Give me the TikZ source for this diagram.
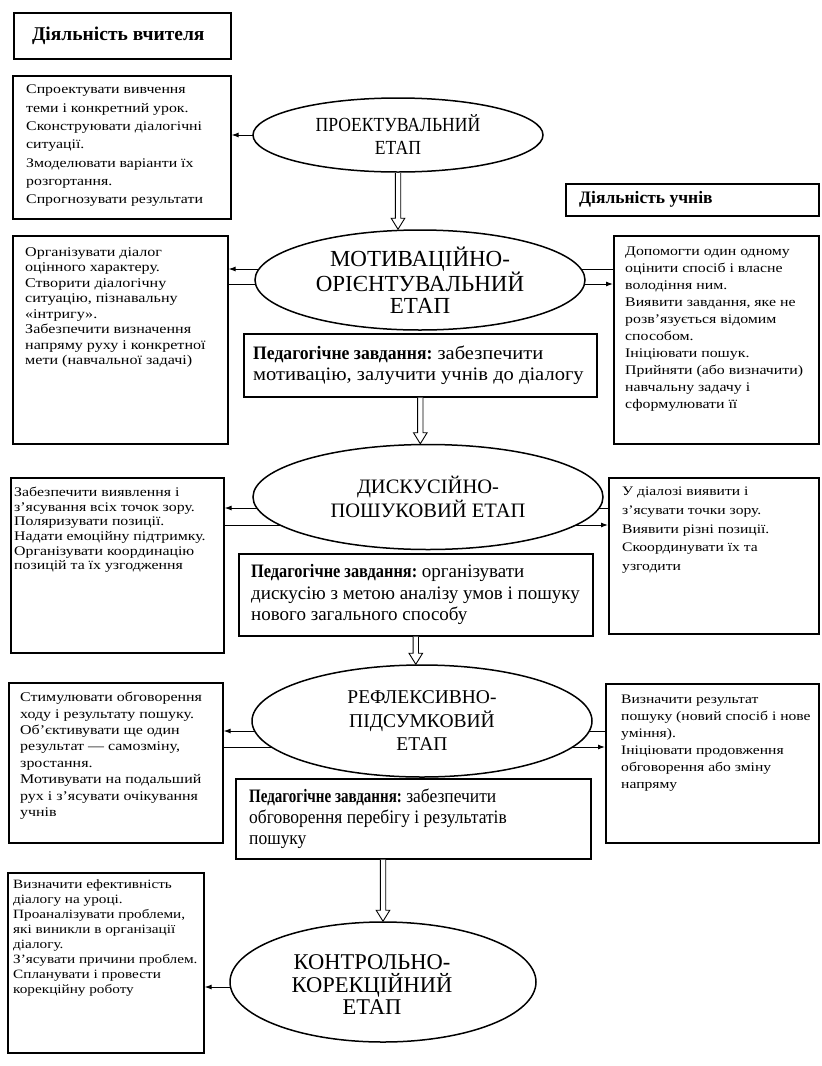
\documentclass[tikz,border=0pt]{standalone}
\usepackage{graphicx}
\usepackage{fontspec}
\setmainfont{Liberation Serif}
\newfontfamily\bx[FakeStretch=1.2]{Liberation Serif}
\newfontfamily\el[FakeStretch=0.88]{Liberation Serif}
\newfontfamily\pfa[FakeStretch=1.08]{Liberation Serif}
\newfontfamily\pfd[FakeStretch=0.92]{Liberation Serif}
\newcommand\pedlabel{\scalebox{0.86}[1]{\bfseries Педагогічне завдання:}}
\usetikzlibrary{arrows.meta,shapes.geometric,backgrounds,calc}
\newcommand\dnarr[2]{%
  \draw[line width=0.9pt, fill=white]
    ($(#1)+(-2.7,0)$) -- ($(#2)+(-2.7,-11)$) -- ($(#2)+(-6.8,-11)$) -- (#2)
    -- ($(#2)+(6.8,-11)$) -- ($(#2)+(2.7,-11)$) -- ($(#1)+(2.7,0)$);}
\begin{document}
\begin{tikzpicture}[x=1pt,y=-1pt,
  frame/.style={draw, line width=1.6pt, inner sep=0pt, fill=white, anchor=north west},
  tx/.style={anchor=north west, inner sep=0pt, align=left},
  stage/.style={ellipse, draw, line width=1.5pt, fill=white, inner sep=0pt, align=center,
                font=\el\fontsize{20}{23}\selectfont},
  arr/.style={line width=1pt, -{Latex[length=7pt,width=5pt]}},
  ln/.style={line width=1pt},
  ped/.style={anchor=west, inner sep=0pt, align=left}
]
\useasboundingbox (0,0) rectangle (822,1066);

% ---------- headers
\node[frame, minimum width=217pt, minimum height=46pt] (H1) at (13,12) {};
\node[inner sep=0pt, font=\bfseries\fontsize{19.5}{22}\selectfont] (H1t) at ([xshift=-4pt]H1.center) {Діяльність вчителя};
\node[frame, minimum width=253pt, minimum height=32pt] (H2) at (565,183) {};
\node[anchor=west, inner sep=0pt, font=\bfseries\fontsize{17.5}{20}\selectfont] (H2t) at ([xshift=14pt]H2.west) {Діяльність учнів};

% ---------- stages
\node[stage, minimum width=290pt, minimum height=74pt] (E1) at (398,135) {ПРОЕКТУВАЛЬНИЙ\\ЕТАП};
\node[stage, minimum width=330pt, minimum height=100pt, font=\fontsize{23}{21.5}\selectfont] (E2) at (420,280) {МОТИВАЦІЙНО-\\ОРІЄНТУВАЛЬНИЙ\\ЕТАП};
\node[stage, minimum width=350pt, minimum height=105pt, font=\fontsize{20.5}{24}\selectfont] (E3) at (428,497) {ДИСКУСІЙНО-\\ПОШУКОВИЙ ЕТАП};
\node[stage, minimum width=340pt, minimum height=112pt, font=\fontsize{19.5}{23.5}\selectfont] (E4) at (422,721) {РЕФЛЕКСИВНО-\\ПІДСУМКОВИЙ\\ЕТАП};
\node[stage, minimum width=306pt, minimum height=120pt] (E5) at (383,982) {};
\node[inner sep=0pt, align=center, font=\fontsize{22.5}{22.5}\selectfont] (E5t) at ([xshift=-11pt,yshift=-3pt]E5.center) {КОНТРОЛЬНО-\\КОРЕКЦІЙНИЙ\\ЕТАП};

% ---------- teacher boxes (left)
\node[frame, minimum width=218pt, minimum height=143pt] (B1) at (12,75) {};
\node[tx, font=\bx\fontsize{13.2}{18.3}\selectfont] (B1t) at ([xshift=14pt,yshift=-10pt]B1.north west)
 {Спроектувати вивчення\\теми і конкретний урок.\\Сконструювати діалогічні\\ситуації.\\Змоделювати варіанти їх\\розгортання.\\Спрогнозувати результати};

\node[frame, minimum width=215pt, minimum height=208pt] (B2) at (12,235) {};
\node[tx, font=\bx\fontsize{13.4}{15.5}\selectfont] (B2t) at ([xshift=13pt,yshift=-12pt]B2.north west)
 {Організувати діалог\\оцінного характеру.\\Створити діалогічну\\ситуацію, пізнавальну\\«інтригу».\\Забезпечити визначення\\напряму руху і конкретної\\мети (навчальної задачі)};

\node[frame, minimum width=213pt, minimum height=175pt] (B3) at (10,477) {};
\node[tx, font=\bx\fontsize{13.2}{14.6}\selectfont] (B3t) at ([xshift=4pt,yshift=-10pt]B3.north west)
 {Забезпечити виявлення і\\з’ясування всіх точок зору.\\Поляризувати позиції.\\Надати емоційну підтримку.\\Організувати координацію\\позицій та їх узгодження};

\node[frame, minimum width=214pt, minimum height=160pt] (B4) at (8,682) {};
\node[tx, font=\bx\fontsize{13.3}{16.4}\selectfont] (B4t) at ([xshift=12pt,yshift=-10pt]B4.north west)
 {Стимулювати обговорення\\ходу і результату пошуку.\\Об’єктивувати ще один\\результат — самозміну,\\зростання.\\Мотивувати на подальший\\рух і з’ясувати очікування\\учнів};

\node[frame, minimum width=196pt, minimum height=180pt] (B5) at (7,872) {};
\node[tx, font=\bx\fontsize{12.7}{15}\selectfont] (B5t) at ([xshift=6pt,yshift=-7pt]B5.north west)
 {Визначити ефективність\\діалогу на уроці.\\Проаналізувати проблеми,\\які виникли в організації\\діалогу.\\З’ясувати причини проблем.\\Спланувати і провести\\корекційну роботу};

% ---------- pupil boxes (right)
\node[frame, minimum width=205pt, minimum height=208pt] (R2) at (613,235) {};
\node[tx, font=\bx\fontsize{13.2}{17}\selectfont] (R2t) at ([xshift=12pt,yshift=-12pt]R2.north west)
 {Допомогти один одному\\оцінити спосіб і власне\\володіння ним.\\Виявити завдання, яке не\\розв’язується відомим\\способом.\\Ініціювати пошук.\\Прийняти (або визначити)\\навчальну задачу і\\сформулювати її};

\node[frame, minimum width=210pt, minimum height=156pt] (R3) at (608,477) {};
\node[tx, font=\bx\fontsize{13}{18.7}\selectfont] (R3t) at ([xshift=14pt,yshift=-10pt]R3.north west)
 {У діалозі виявити і\\з’ясувати точки зору.\\Виявити різні позиції.\\Скоординувати їх та\\узгодити};

\node[frame, minimum width=213pt, minimum height=159pt] (R4) at (605,683) {};
\node[tx, font=\bx\fontsize{13}{17}\selectfont] (R4t) at ([xshift=16pt,yshift=-12pt]R4.north west)
 {Визначити результат\\пошуку (новий спосіб і нове\\уміння).\\Ініціювати продовження\\обговорення або зміну\\напряму};

% ---------- pedagogical task boxes
\node[frame, minimum width=353pt, minimum height=63pt] (P2) at (243,333) {};
\node[ped, font=\pfa\fontsize{19}{21}\selectfont] (P2t) at ([xshift=10pt]P2.west)
 {\pedlabel{} забезпечити\\мотивацію, залучити учнів до діалогу};
\node[frame, minimum width=354pt, minimum height=82pt] (P3) at (238,553) {};
\node[ped, font=\fontsize{19}{21.5}\selectfont] (P3t) at ([xshift=13pt]P3.west)
 {\pedlabel{} організувати\\дискусію з метою аналізу умов і пошуку\\нового загального способу};
\node[frame, minimum width=355pt, minimum height=80pt] (P4) at (235,778) {};
\node[ped, font=\pfd\fontsize{19}{21}\selectfont] (P4t) at ([xshift=14pt]P4.west)
 {\pedlabel{} забезпечити\\обговорення перебігу і результатів\\пошуку};

% ---------- side connectors (behind the ellipses)
\path (E2.center) ++(0,-11) coordinate (e2a);
\path (E2.center) ++(0,4) coordinate (e2b);
\path (E3.center) ++(0,11) coordinate (e3a);
\path (E3.center) ++(0,28) coordinate (e3b);
\path (E4.center) ++(0,10) coordinate (e4a);
\path (E4.center) ++(0,26) coordinate (e4b);
\path (E5.center) ++(0,5) coordinate (e5a);

\begin{scope}[on background layer]
\fill[white] (0,0) rectangle (822,1066);
\draw[arr] (E1.center) -- (E1.center -| B1.east);
\draw[arr] (e2a) -- (e2a -| B2.east);
\draw[ln]  (e2b) -- (e2b -| B2.east);
\draw[ln]  (e2a) -- (e2a -| R2.west);
\draw[arr] (e2b) -- (e2b -| R2.west);
\draw[arr] (e3a) -- (e3a -| B3.east);
\draw[ln]  (e3b) -- (e3b -| B3.east);
\draw[ln]  (e3a) -- (e3a -| R3.west);
\draw[arr] (e3b) -- (e3b -| R3.west);
\draw[arr] (e4a) -- (e4a -| B4.east);
\draw[ln]  (e4b) -- (e4b -| B4.east);
\draw[ln]  (e4a) -- (e4a -| R4.west);
\draw[arr] (e4b) -- (e4b -| R4.west);
\draw[arr] (e5a) -- (e5a -| B5.east);
\end{scope}

% ---------- main flow (hollow double arrows)
\coordinate (d1e) at (E1.south |- E2.north);
\coordinate (d2e) at (P2.south |- E3.north);
\coordinate (d3e) at (P3.south |- E4.north);
\coordinate (d4s) at (E5.north |- P4.south);
\dnarr{E1.south}{d1e}
\dnarr{P2.south}{d2e}
\dnarr{P3.south}{d3e}
\dnarr{d4s}{E5.north}
\end{tikzpicture}
\end{document}
